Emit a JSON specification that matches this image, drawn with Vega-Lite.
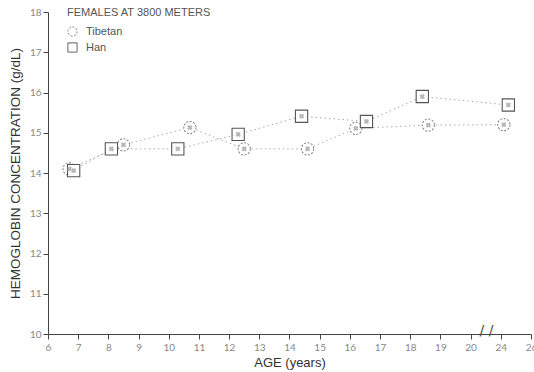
{
  "$schema": "https://vega.github.io/schema/vega-lite/v6.json",
  "width": 483,
  "height": 322,
  "autosize": {"type": "none"},
  "padding": {"left": 48, "top": 12, "right": 3, "bottom": 38},
  "background": "white",
  "config": {
    "view": {"stroke": null},
    "font": "Lato",
    "axis": {
      "grid": false,
      "domainColor": "#444",
      "tickColor": "#444",
      "tickSize": 5,
      "labelColor": "#888",
      "labelFontSize": 10,
      "titleColor": "#333",
      "titleFontSize": 13,
      "titleFontWeight": "normal",
      "labelFont": "Lato",
      "titleFont": "Liberation Sans"
    }
  },
  "data": {
    "values": [
      {"group": "Tibetan", "age": 6.7, "hb": 14.1},
      {"group": "Tibetan", "age": 8.5, "hb": 14.7},
      {"group": "Tibetan", "age": 10.7, "hb": 15.13},
      {"group": "Tibetan", "age": 12.5, "hb": 14.6},
      {"group": "Tibetan", "age": 14.6, "hb": 14.6},
      {"group": "Tibetan", "age": 16.2, "hb": 15.11},
      {"group": "Tibetan", "age": 18.6, "hb": 15.19},
      {"group": "Tibetan", "age": 24.2, "hb": 15.2},
      {"group": "Han", "age": 6.85, "hb": 14.06},
      {"group": "Han", "age": 8.1, "hb": 14.6},
      {"group": "Han", "age": 10.3, "hb": 14.6},
      {"group": "Han", "age": 12.3, "hb": 14.96},
      {"group": "Han", "age": 14.4, "hb": 15.41},
      {"group": "Han", "age": 16.55, "hb": 15.28},
      {"group": "Han", "age": 18.4, "hb": 15.9},
      {"group": "Han", "age": 24.5, "hb": 15.69}
    ]
  },
  "encoding": {
    "x": {
      "field": "age",
      "type": "quantitative",
      "scale": {"domain": [6, 20, 24, 26], "range": [0, 422.6, 452.8, 483], "nice": false, "zero": false},
      "axis": {
        "values": [6, 7, 8, 9, 10, 11, 12, 13, 14, 15, 16, 17, 18, 19, 20, 24, 26],
        "title": "AGE (years)",
        "labelPadding": 3,
        "titlePadding": 4,
        "labelOverlap": false,
        "labelFlush": false,
        "labelBound": false
      }
    },
    "y": {
      "field": "hb",
      "type": "quantitative",
      "scale": {"domain": [10, 18], "nice": false, "zero": false},
      "axis": {
        "values": [10, 11, 12, 13, 14, 15, 16, 17, 18],
        "title": "HEMOGLOBIN CONCENTRATION (g/dL)",
        "titleFontSize": 13.5,
        "labelPadding": 2,
        "titlePadding": 7
      }
    }
  },
  "layer": [
    {
      "mark": {"type": "line", "stroke": "#aaa", "strokeDash": [1.5, 3], "strokeWidth": 1},
      "encoding": {"detail": {"field": "group"}}
    },
    {
      "mark": {"type": "point", "filled": false, "fill": "white", "fillOpacity": 1, "strokeWidth": 1.1, "size": 150},
      "encoding": {
        "shape": {
          "field": "group",
          "type": "nominal",
          "scale": {"domain": ["Tibetan", "Han"], "range": ["circle", "square"]},
          "legend": {
            "orient": "none",
            "legendX": 19,
            "legendY": -5,
            "title": "FEMALES AT 3800 METERS",
            "titleFontSize": 11,
            "titleColor": "#555",
            "titleFontWeight": "normal",
            "titleFont": "Liberation Sans",
            "labelFont": "Liberation Sans",
            "labelFontSize": 11,
            "labelColor": "#555",
            "symbolSize": 85,
            "symbolStrokeWidth": 1,
            "symbolFillColor": "white",
            "labelOffset": 8,
            "rowPadding": 1,
            "titlePadding": 8
          }
        },
        "stroke": {
          "field": "group",
          "type": "nominal",
          "scale": {"domain": ["Tibetan", "Han"], "range": ["#888", "#555"]},
          "legend": {
            "orient": "none",
            "legendX": 19,
            "legendY": -5,
            "title": "FEMALES AT 3800 METERS"
          }
        },
        "strokeDash": {
          "field": "group",
          "type": "nominal",
          "scale": {"domain": ["Tibetan", "Han"], "range": [[2, 1.5], [1, 0]]},
          "legend": {
            "orient": "none",
            "legendX": 19,
            "legendY": -5,
            "title": "FEMALES AT 3800 METERS"
          }
        }
      }
    },
    {
      "mark": {"type": "point", "shape": "cross", "angle": 45, "filled": true, "size": 28, "color": "#999"}
    },
    {
      "data": {"values": [{"age": 22.1, "hb": 10.08, "t": "/ /"}]},
      "mark": {"type": "text", "fontSize": 14, "color": "#444", "font": "DejaVu Sans"},
      "encoding": {"text": {"field": "t"}}
    }
  ]
}
